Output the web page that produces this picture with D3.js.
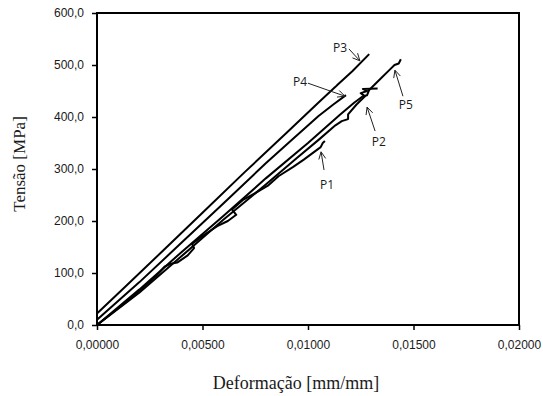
<!DOCTYPE html>
<html>
<head>
<meta charset="utf-8">
<script src="https://cdn.jsdelivr.net/npm/d3@7"></script>
<style>
  body { margin: 0; background: #fff; }
  svg { display: block; }
</style>
</head>
<body>
<svg id="chart" width="543" height="396"></svg>
<script>
// ticks
var xTicks = [0, 0.005, 0.01, 0.015, 0.02];
var yTicks = [0, 100, 200, 300, 400, 500, 600];

// series, [deformacao, tensao]
var p1 = [[0, 0], [0.0015, 48], [0.0028, 94], [0.0032, 112], [0.0035, 118], [0.0038, 120],
    [0.0043, 134], [0.0046, 148], [0.0045, 156], [0.0051, 174], [0.0057, 190], [0.0062, 200],
    [0.0066, 212], [0.0064, 222], [0.0069, 240], [0.0076, 256], [0.0081, 268], [0.0086, 286],
    [0.0093, 304], [0.0098, 318], [0.0102, 330], [0.0106, 342], [0.0107, 350], [0.0108, 354]];
var p2 = [[0, 0], [0.002, 62], [0.004, 132], [0.006, 203], [0.008, 270], [0.0095, 322],
    [0.0105, 356], [0.0113, 384], [0.0116, 392], [0.0119, 396], [0.0119, 405], [0.0123, 424],
    [0.0127, 440], [0.0125, 446], [0.0128, 450], [0.0126, 454], [0.0133, 455]];
var p3 = [[0, 22], [0.0013, 72], [0.003, 138], [0.005, 216], [0.007, 294], [0.009, 370],
    [0.0105, 428], [0.0113, 458], [0.0114, 462], [0.0121, 488], [0.0129, 521]];
var p4 = [[0, 10], [0.002, 82], [0.004, 158], [0.006, 234], [0.008, 311], [0.0092, 355],
    [0.0105, 402], [0.0112, 424], [0.0118, 442]];
var p5 = [[0, 0], [0.002, 68], [0.004, 140], [0.006, 210], [0.008, 282], [0.010, 350],
    [0.0115, 404], [0.0122, 428], [0.0126, 440], [0.0128, 442], [0.0129, 452], [0.0134, 472],
    [0.0139, 492], [0.0141, 500], [0.0143, 503], [0.0144, 511]];

var seriesNames = ["P1", "P2", "P3", "P4", "P5"];
var seriesData = [p1, p2, p3, p4, p5];

var svg = d3.select("svg#chart"),
    margin = { top: 13, right: 24, bottom: 71, left: 97 },
    width = 543 - margin.left - margin.right,
    height = 396 - margin.top - margin.bottom,
    g = svg.append("g")
        .attr("transform", "translate(" + margin.left + "," + margin.top + ")");

var x = d3.scaleLinear().domain([0, 0.02]).range([0, width]);
var y = d3.scaleLinear().domain([0, 600]).range([height, 0]);

var comma = function(f) {
    return function(d) { return d3.format(f)(d).replace(".", ","); };
};

var xAxis = g.append("g")
    .attr("transform", "translate(0," + height + ")")
    .call(d3.axisBottom(x).tickValues(xTicks).tickSize(5).tickSizeOuter(0).tickFormat(comma(".5f")));

var yAxis = g.append("g")
    .call(d3.axisLeft(y).tickValues(yTicks).tickSize(5).tickSizeOuter(0).tickFormat(comma(".1f")));

[xAxis, yAxis].forEach(function(a) {
    a.select(".domain").remove();
    a.selectAll("line").attr("stroke", "#000").attr("stroke-width", 1.5);
    a.selectAll("text")
        .attr("font-family", "Liberation Sans, Arial, sans-serif")
        .attr("font-size", "12px")
        .attr("fill", "#1a1a1a");
});
xAxis.selectAll("text").attr("dy", "16px");
yAxis.selectAll("text").attr("x", -13);

// frame
g.append("rect")
    .attr("x", 0).attr("y", 0)
    .attr("width", width).attr("height", height)
    .attr("fill", "none")
    .attr("stroke", "#000")
    .attr("stroke-width", 2);

var line = d3.line()
    .x(function(d) { return x(d[0]); })
    .y(function(d) { return y(d[1]); });

g.append("g")
    .selectAll("path")
    .data(seriesData)
    .enter()
    .append("path")
    .attr("d", line)
    .attr("fill", "none")
    .attr("stroke", "#000")
    .attr("stroke-width", 2)
    .attr("stroke-linejoin", "round");

// labels with open arrows: text point, arrow start and tip, in data units
var notes = [
    { name: "P1", text: [0.0109, 269], from: [0.01076, 298], to: [0.01062, 333] },
    { name: "P2", text: [0.01336, 352], from: [0.01318, 373], to: [0.0128, 419] },
    { name: "P3", text: [0.01152, 533], from: [0.01194, 531], to: [0.01246, 508] },
    { name: "P4", text: [0.00962, 467], from: [0.0100, 465], to: [0.01175, 440] },
    { name: "P5", text: [0.01464, 423], from: [0.0145, 440], to: [0.01412, 490] }
];

var ann = g.append("g").selectAll("g").data(notes).enter().append("g");

ann.append("text")
    .attr("x", function(d) { return x(d.text[0]); })
    .attr("y", function(d) { return y(d.text[1]); })
    .attr("text-anchor", "middle")
    .attr("dy", "0.35em")
    .attr("font-family", "Open Sans, Noto Sans, sans-serif")
    .attr("font-size", "12px")
    .attr("fill", "#1a1a1a")
    .text(function(d) { return d.name; });

ann.append("path")
    .attr("d", function(d) {
        var x0 = x(d.from[0]), y0 = y(d.from[1]), x1 = x(d.to[0]), y1 = y(d.to[1]);
        var a = Math.atan2(y1 - y0, x1 - x0), L = 8, s = 0.45;
        return "M" + x0 + "," + y0 + "L" + x1 + "," + y1 +
            "M" + (x1 - L * Math.cos(a - s)) + "," + (y1 - L * Math.sin(a - s)) +
            "L" + x1 + "," + y1 +
            "L" + (x1 - L * Math.cos(a + s)) + "," + (y1 - L * Math.sin(a + s));
    })
    .attr("fill", "none")
    .attr("stroke", "#222")
    .attr("stroke-width", 1);

// axis titles
svg.append("text")
    .attr("x", 296)
    .attr("y", 389)
    .attr("text-anchor", "middle")
    .attr("font-family", "Liberation Serif, Times New Roman, serif")
    .attr("font-size", "18px")
    .attr("fill", "#1a1a1a")
    .text("Deformação [mm/mm]");

svg.append("text")
    .attr("transform", "translate(25,164) rotate(-90)")
    .attr("text-anchor", "middle")
    .attr("font-family", "Liberation Serif, Times New Roman, serif")
    .attr("font-size", "17px")
    .attr("fill", "#1a1a1a")
    .text("Tensão [MPa]");
</script>
</body>
</html>
